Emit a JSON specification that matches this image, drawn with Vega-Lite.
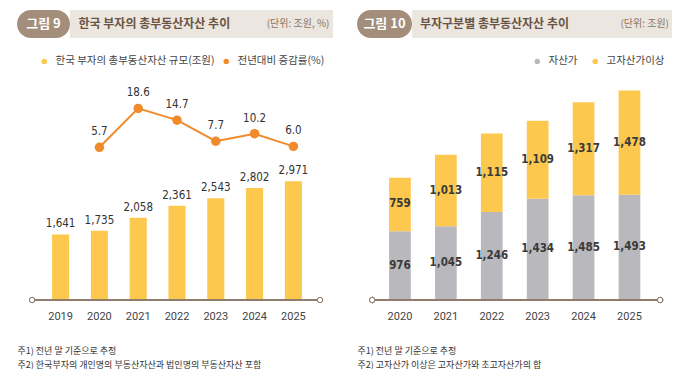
{
  "$schema": "https://vega.github.io/schema/vega-lite/v6.json",
  "padding": {"left": 17, "top": 10, "right": 0, "bottom": 0},
  "background": "white",
  "config": {"font": "Noto Sans CJK KR", "view": {"stroke": null}},
  "spacing": 24,
  "resolve": {"scale": {"color": "independent"}, "legend": {"color": "independent"}},
  "hconcat": [
    {
      "spacing": 18,
      "resolve": {"legend": {"color": "independent"}},
      "vconcat": [
        {
          "spacing": 0,
          "hconcat": [
            {
              "width": 53, "height": 28,
              "view": {"fill": "#a38e7c", "stroke": null, "cornerRadius": 14},
              "data": {"values": [{"label": "그림 9"}]},
              "mark": {"type": "text", "color": "white", "font": "Noto Sans CJK KR", "fontSize": 13, "fontWeight": "bold"},
              "encoding": {"text": {"field": "label"}}
            },
            {
              "width": 263, "height": 28,
              "view": {"fill": "#ebe6df", "stroke": null},
              "data": {"values": [{"title": "한국 부자의 총부동산자산 추이", "unit": "(단위: 조원, %)"}]},
              "layer": [
                {"mark": {"type": "text", "align": "left", "dx": -123, "fontSize": 12, "fontWeight": "bold", "color": "#6b5444", "font": "Noto Sans CJK KR"}, "encoding": {"text": {"field": "title"}}},
                {"mark": {"type": "text", "align": "right", "dx": 128, "fontSize": 10, "color": "#8b7461", "font": "Noto Sans CJK KR"}, "encoding": {"text": {"field": "unit"}}}
              ]
            }
          ]
        },
        {
          "width": 303, "height": 219,
          "data": {"values": [
            {"year": "2019", "assets": 1641, "rate": null},
            {"year": "2020", "assets": 1735, "rate": 5.7},
            {"year": "2021", "assets": 2058, "rate": 18.6},
            {"year": "2022", "assets": 2361, "rate": 14.7},
            {"year": "2023", "assets": 2543, "rate": 7.7},
            {"year": "2024", "assets": 2802, "rate": 10.2},
            {"year": "2025", "assets": 2971, "rate": 6.0}
          ]},
          "encoding": {
            "x": {
              "field": "year", "type": "ordinal",
              "scale": {"paddingInner": 0.56, "paddingOuter": 0.685, "align": 0.66},
              "axis": {
                "title": ["주1) 전년 말 기준으로 추정", "주2) 한국부자의 개인명의 부동산자산과 법인명의 부동산자산 포함"],
                "titleAnchor": "start", "titleAlign": "left", "titleX": 0, "titleY": 46, "titleBaseline": "top",
                "titleFontSize": 9, "titleFontWeight": "normal", "titleColor": "#333333", "titleLineHeight": 14, "titleFont": "Noto Sans CJK KR",
                "labelAngle": 0, "labelFontSize": 11, "labelPadding": 10, "labelColor": "#444444", "labelFont": "Roboto",
                "ticks": false, "domain": false
              }
            }
          },
          "layer": [
            {
              "mark": {"type": "bar"},
              "encoding": {
                "y": {"field": "assets", "type": "quantitative", "scale": {"domain": [0, 5480], "nice": false}, "axis": null},
                "color": {
                  "datum": "한국 부자의 총부동산자산 규모(조원)",
                  "scale": {"domain": ["한국 부자의 총부동산자산 규모(조원)", "전년대비 증감률(%)"], "range": ["#fdc84e", "#f18a2a"]},
                  "legend": {
                    "orient": "none", "legendX": 22, "legendY": -25, "direction": "horizontal", "title": null,
                    "symbolType": "circle", "symbolSize": 30, "symbolStrokeWidth": 0, "labelFontSize": 10.5, "labelColor": "#444444",
                    "labelFont": "Noto Sans CJK KR", "columnPadding": 6, "labelOffset": 6
                  }
                }
              }
            },
            {
              "mark": {"type": "rule", "color": "#8e7d6d", "strokeWidth": 1},
              "encoding": {
                "x": {"datum": "2019", "bandPosition": -1.17},
                "x2": {"datum": "2025", "bandPosition": 2.06},
                "y": {"datum": 0, "type": "quantitative", "scale": {"domain": [0, 5480], "nice": false}, "axis": null}
              }
            },
            {
              "mark": {"type": "point", "shape": "circle", "filled": true, "fill": "white", "stroke": "#8e7d6d", "strokeWidth": 1, "size": 28, "opacity": 1},
              "encoding": {
                "x": {"datum": "2019", "bandPosition": -1.17},
                "y": {"datum": 0, "type": "quantitative", "scale": {"domain": [0, 5480], "nice": false}, "axis": null}
              }
            },
            {
              "mark": {"type": "point", "shape": "circle", "filled": true, "fill": "white", "stroke": "#8e7d6d", "strokeWidth": 1, "size": 28, "opacity": 1},
              "encoding": {
                "x": {"datum": "2025", "bandPosition": 2.06},
                "y": {"datum": 0, "type": "quantitative", "scale": {"domain": [0, 5480], "nice": false}, "axis": null}
              }
            },
            {
              "mark": {"type": "text", "dy": -10, "fontSize": 11.5, "color": "#333333", "font": "DejaVu Sans Condensed"},
              "encoding": {
                "y": {"field": "assets", "type": "quantitative", "scale": {"domain": [0, 5480], "nice": false}, "axis": null},
                "text": {"field": "assets", "type": "quantitative", "format": ","}
              }
            },
            {
              "mark": {"type": "line", "strokeWidth": 2, "point": {"filled": true, "size": 90}},
              "encoding": {
                "y": {"field": "rate", "type": "quantitative", "scale": {"domain": [-45, 27.7], "nice": false}, "axis": null},
                "color": {"datum": "전년대비 증감률(%)"}
              }
            },
            {
              "mark": {"type": "text", "dy": -15, "fontSize": 11.5, "color": "#333333", "font": "DejaVu Sans Condensed"},
              "encoding": {
                "y": {"field": "rate", "type": "quantitative", "scale": {"domain": [-45, 27.7], "nice": false}, "axis": null},
                "text": {"field": "rate", "type": "quantitative", "format": ".1f"}
              }
            }
          ],
          "resolve": {"scale": {"y": "independent"}}
        }
      ]
    },
    {
      "spacing": 18,
      "resolve": {"legend": {"color": "independent"}},
      "vconcat": [
        {
          "spacing": 0,
          "hconcat": [
            {
              "width": 55, "height": 28,
              "view": {"fill": "#a38e7c", "stroke": null, "cornerRadius": 14},
              "data": {"values": [{"label": "그림 10"}]},
              "mark": {"type": "text", "color": "white", "font": "Noto Sans CJK KR", "fontSize": 13, "fontWeight": "bold"},
              "encoding": {"text": {"field": "label"}}
            },
            {
              "width": 260, "height": 28,
              "view": {"fill": "#ebe6df", "stroke": null},
              "data": {"values": [{"title": "부자구분별 총부동산자산 추이", "unit": "(단위: 조원)"}]},
              "layer": [
                {"mark": {"type": "text", "align": "left", "dx": -122, "fontSize": 12, "fontWeight": "bold", "color": "#6b5444", "font": "Noto Sans CJK KR"}, "encoding": {"text": {"field": "title"}}},
                {"mark": {"type": "text", "align": "right", "dx": 127, "fontSize": 10, "color": "#8b7461", "font": "Noto Sans CJK KR"}, "encoding": {"text": {"field": "unit"}}}
              ]
            }
          ]
        },
        {
          "width": 303, "height": 219,
          "data": {"values": [
            {"year": "2020", "series": "자산가", "value": 976},
            {"year": "2020", "series": "고자산가이상", "value": 759},
            {"year": "2021", "series": "자산가", "value": 1045},
            {"year": "2021", "series": "고자산가이상", "value": 1013},
            {"year": "2022", "series": "자산가", "value": 1246},
            {"year": "2022", "series": "고자산가이상", "value": 1115},
            {"year": "2023", "series": "자산가", "value": 1434},
            {"year": "2023", "series": "고자산가이상", "value": 1109},
            {"year": "2024", "series": "자산가", "value": 1485},
            {"year": "2024", "series": "고자산가이상", "value": 1317},
            {"year": "2025", "series": "자산가", "value": 1493},
            {"year": "2025", "series": "고자산가이상", "value": 1478}
          ]},
          "encoding": {
            "x": {
              "field": "year", "type": "ordinal",
              "scale": {"paddingInner": 0.527, "paddingOuter": 0.564, "align": 0.62},
              "axis": {
                "title": ["주1) 전년 말 기준으로 추정", "주2) 고자산가 이상은 고자산가와 초고자산가의 합"],
                "titleAnchor": "start", "titleAlign": "left", "titleX": 0, "titleY": 46, "titleBaseline": "top",
                "titleFontSize": 9, "titleFontWeight": "normal", "titleColor": "#333333", "titleLineHeight": 14, "titleFont": "Noto Sans CJK KR",
                "labelAngle": 0, "labelFontSize": 11, "labelPadding": 10, "labelColor": "#444444", "labelFont": "Roboto",
                "ticks": false, "domain": false
              }
            }
          },
          "layer": [
            {
              "mark": {"type": "bar"},
              "encoding": {
                "y": {"field": "value", "type": "quantitative", "stack": "zero", "scale": {"domain": [0, 3105], "nice": false}, "axis": null},
                "color": {
                  "field": "series", "type": "nominal",
                  "scale": {"domain": ["자산가", "고자산가이상"], "range": ["#b9b9bd", "#fdc84e"]},
                  "legend": {
                    "orient": "none", "legendX": 175, "legendY": -25, "direction": "horizontal", "title": null,
                    "symbolType": "circle", "symbolSize": 30, "symbolStrokeWidth": 0, "labelFontSize": 10.5, "labelColor": "#444444",
                    "labelFont": "Noto Sans CJK KR", "columnPadding": 12, "labelOffset": 6
                  }
                },
                "order": {"field": "series", "sort": "descending"}
              }
            },
            {
              "mark": {"type": "rule", "color": "#8e7d6d", "strokeWidth": 1},
              "encoding": {
                "x": {"datum": "2020", "bandPosition": -0.78},
                "x2": {"datum": "2025", "bandPosition": 1.91},
                "y": {"datum": 0, "type": "quantitative", "scale": {"domain": [0, 3105], "nice": false}, "axis": null}
              }
            },
            {
              "mark": {"type": "point", "shape": "circle", "filled": true, "fill": "white", "stroke": "#8e7d6d", "strokeWidth": 1, "size": 28, "opacity": 1},
              "encoding": {
                "x": {"datum": "2020", "bandPosition": -0.78},
                "y": {"datum": 0, "type": "quantitative", "scale": {"domain": [0, 3105], "nice": false}, "axis": null}
              }
            },
            {
              "mark": {"type": "point", "shape": "circle", "filled": true, "fill": "white", "stroke": "#8e7d6d", "strokeWidth": 1, "size": 28, "opacity": 1},
              "encoding": {
                "x": {"datum": "2025", "bandPosition": 1.91},
                "y": {"datum": 0, "type": "quantitative", "scale": {"domain": [0, 3105], "nice": false}, "axis": null}
              }
            },
            {
              "mark": {"type": "text", "fontSize": 11.5, "fontWeight": "bold", "color": "#3a3a3a", "font": "DejaVu Sans Condensed", "baseline": "middle"},
              "encoding": {
                "y": {"field": "value", "type": "quantitative", "stack": "zero", "bandPosition": 0.5, "scale": {"domain": [0, 3105], "nice": false}, "axis": null},
                "detail": {"field": "series"},
                "order": {"field": "series", "sort": "descending"},
                "text": {"field": "value", "type": "quantitative", "format": ","}
              }
            }
          ]
        }
      ]
    }
  ]
}
